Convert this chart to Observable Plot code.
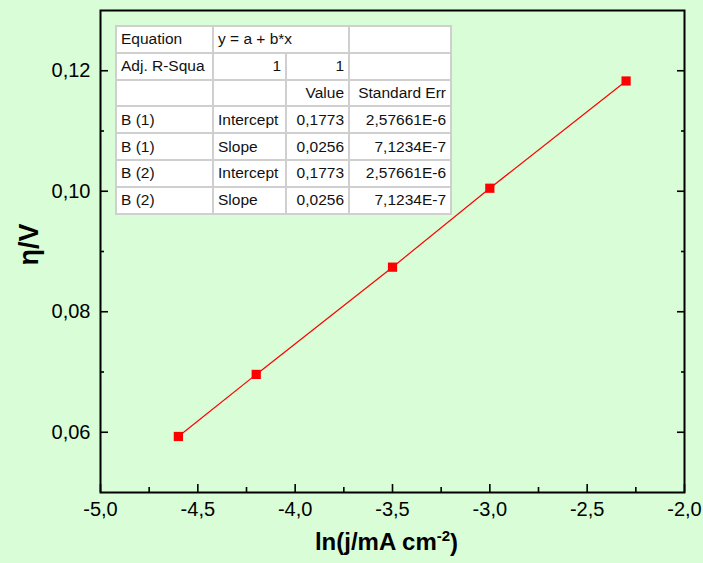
<!DOCTYPE html>
<html>
<head>
<meta charset="utf-8">
<script src="https://cdn.jsdelivr.net/npm/d3@7"></script>
<script src="https://cdn.jsdelivr.net/npm/@observablehq/plot@0.6"></script>
<style>
  html, body { margin: 0; padding: 0; background: #d9fdd6; }
  #wrap { position: relative; width: 703px; height: 563px; background: #d9fdd6; font-family: "Liberation Sans", Arial, sans-serif; overflow: hidden; }
  #wrap svg { position: absolute; left: 0; top: 0; background: transparent; }
  table.fit { position: absolute; left: 115px; top: 25px; border-collapse: collapse; background: #fff; table-layout: fixed;
    border: 2px solid #666; font-size: 15.5px; color: #111; }
  table.fit td { border: 2px solid #cfcfcf; height: 24.8px; padding: 0 4px; white-space: nowrap; line-height: 24px; overflow: hidden; }
  table.fit td.l { text-align: left; }
  table.fit td.r { text-align: right; }
</style>
</head>
<body>
<div id="wrap"></div>
<script>
// ---- data ----
const lnJ = [-4.6, -4.2, -3.5, -3.0, -2.3];
const eta = [0.0593, 0.0696, 0.0874, 0.1005, 0.1183];
const xTicks = [-5.0, -4.5, -4.0, -3.5, -3.0, -2.5, -2.0];
const xMinor = [-4.75, -4.25, -3.75, -3.25, -2.75, -2.25];
const yTicks = [0.06, 0.08, 0.10, 0.12];
const yMinor = [0.07, 0.09, 0.11];
const xTitle = "ln(j/mA cm";
const yTitle = "η/V";
const tableCol1 = ["Equation", "Adj. R-Squa", "", "B (1)", "B (1)", "B (2)", "B (2)"];
const tableCol2 = ["y = a + b*x", "1", "", "Intercept", "Slope", "Intercept", "Slope"];
const tableCol3 = [null, "1", "Value", "0,1773", "0,0256", "0,1773", "0,0256"];
const tableCol4 = ["", "", "Standard Err", "2,57661E-6", "7,1234E-7", "2,57661E-6", "7,1234E-7"];

const data = lnJ.map((x, i) => ({x, y: eta[i]}));
const fmtX = d => d.toFixed(1).replace(".", ",");
const fmtY = d => d.toFixed(2).replace(".", ",");

const plot = Plot.plot({
  width: 703,
  height: 563,
  marginLeft: 100,
  marginRight: 19,
  marginTop: 10,
  marginBottom: 71,
  style: {background: "transparent", fontFamily: "'Liberation Sans', Arial, sans-serif", color: "black"},
  x: {domain: [-5, -2]},
  y: {domain: [0.05, 0.13]},
  marks: [
    Plot.axisX(xTicks, {anchor: "bottom", tickSize: 0, tickPadding: 9, tickFormat: fmtX, fontSize: 20, label: null}),
    Plot.axisX(xTicks, {anchor: "bottom", tickSize: -8, text: null, label: null, strokeWidth: 1.6}),
    Plot.axisX(xMinor, {anchor: "bottom", tickSize: -5, text: null, label: null, strokeWidth: 1.6}),
    Plot.axisY(yTicks, {anchor: "left", tickSize: 0, tickPadding: 10, tickFormat: fmtY, fontSize: 20, label: null}),
    Plot.axisY(yTicks, {anchor: "left", tickSize: -8, text: null, label: null, strokeWidth: 1.6}),
    Plot.axisY(yMinor, {anchor: "left", tickSize: -4, text: null, label: null, strokeWidth: 1.6}),
    Plot.axisY(yTicks, {anchor: "right", tickSize: -8, text: null, label: null, strokeWidth: 1.6}),
    Plot.axisY(yMinor, {anchor: "right", tickSize: -4, text: null, label: null, strokeWidth: 1.6}),
    Plot.frame({stroke: "black", strokeWidth: 2}),
    Plot.line(data, {x: "x", y: "y", stroke: "red", strokeWidth: 1.2}),
    Plot.dot(data, {x: "x", y: "y", symbol: "square", r: 5.2, fill: "red", stroke: "none"}),
    Plot.text([xTitle], {frameAnchor: "bottom", dy: 57, dx: -6, fontSize: 24, fontWeight: "bold", className: "xtitle"}),
    Plot.text([yTitle], {frameAnchor: "left", dx: -71, dy: 14, rotate: -90, fontSize: 27, fontWeight: "bold", className: "ytitle"})
  ]
});

document.getElementById("wrap").appendChild(plot);

// superscript on x title
const t = d3.select(plot).select("g.xtitle text");
t.text(null);
t.append("tspan").text(xTitle);
t.append("tspan").attr("font-size", 15).attr("dy", "-0.6em").text("-2");
t.append("tspan").attr("dy", "0.45em").text(")");

// fit table
const table = document.createElement("table");
table.className = "fit";
const widths = [87, 63, 53, 92];
const colgroup = document.createElement("colgroup");
widths.forEach(w => { const c = document.createElement("col"); c.style.width = (w + 10) + "px"; colgroup.appendChild(c); });
table.appendChild(colgroup);
table.style.width = (widths.reduce((a, b) => a + b, 0) + 40) + "px";
for (let i = 0; i < tableCol1.length; i++) {
  const tr = document.createElement("tr");
  const addCell = (txt, cls, span) => {
    const td = document.createElement("td");
    td.textContent = txt;
    td.className = cls;
    if (span) td.colSpan = span;
    tr.appendChild(td);
  };
  addCell(tableCol1[i], "l");
  if (tableCol3[i] === null) {
    addCell(tableCol2[i], "l", 2);
  } else {
    addCell(tableCol2[i], tableCol2[i] === "1" ? "r" : "l");
    addCell(tableCol3[i], "r");
  }
  addCell(tableCol4[i], "r");
  table.appendChild(tr);
}
document.getElementById("wrap").appendChild(table);
</script>
</body>
</html>
